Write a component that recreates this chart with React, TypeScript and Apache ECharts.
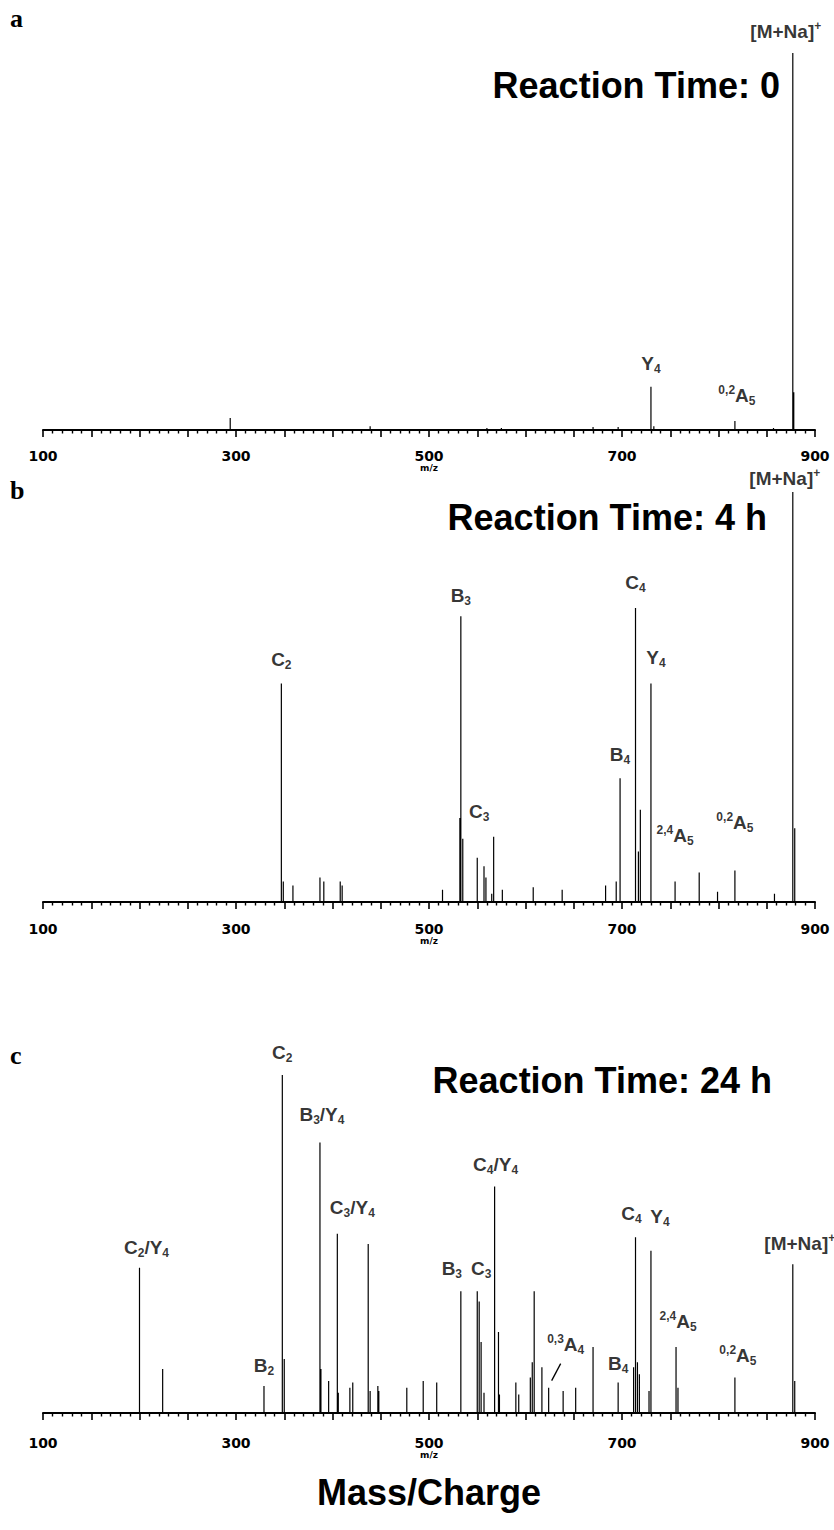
import React, { useEffect, useRef } from "react";
import * as echarts from "echarts";

const MZ_MIN = 100;
const MZ_MAX = 900;
const TICK_LABEL_VALUES = [100, 300, 500, 700, 900];

// ---- Panel a: Reaction time 0 ----
const A_MZ = [294, 439, 560, 575, 670, 696, 730, 733, 817, 857, 877, 878];
const A_INT = [3.2, 1, 0.5, 0.5, 0.8, 0.8, 11.5, 1, 2.4, 0.5, 100, 10];
const A_LABEL_MZ = [877, 730, 817];
const A_LABEL_TEXT = ["{m|[M+Na]}{sup|+}", "{m|Y}{sub|4}", "{sup|0,2}{m|A}{sub|5}"];

// ---- Panel b: Reaction time 4 h ----
const B_MZ = [347, 349, 359, 387, 391, 408, 410, 514, 532, 533, 535, 550, 557, 559, 565, 567, 576, 608, 638, 683, 694, 698, 714, 717, 719, 730, 755, 780, 799, 817, 858, 877, 879];
const B_INT = [53.3, 5, 4, 6, 5, 5, 4, 3, 20.5, 69.7, 15.4, 10.8, 8.7, 6, 2, 15.9, 3, 3.6, 3, 4, 5, 30.2, 71.7, 12.3, 22.5, 53.3, 5, 7.2, 2.5, 7.7, 2, 100, 18];
const B_LABEL_MZ = [877, 347, 533, 550, 698, 714, 730, 755, 817];
const B_LABEL_TEXT = [
  "{m|[M+Na]}{sup|+}", "{m|C}{sub|2}", "{m|B}{sub|3}", "{m|C}{sub|3}", "{m|B}{sub|4}",
  "{m|C}{sub|4}", "{m|Y}{sub|4}", "{sup|2,4}{m|A}{sub|5}", "{sup|0,2}{m|A}{sub|5}",
];

// ---- Panel c: Reaction time 24 h ----
const C_MZ = [200, 224, 329, 348, 350, 387, 388, 396, 405, 406, 418, 421, 437, 439, 447, 448, 477, 494, 508, 533, 550, 552, 554, 557, 568, 572, 573, 590, 593, 605, 607, 609, 617, 624, 639, 652, 670, 696, 712, 714, 716, 718, 728, 730, 756, 758, 817, 877, 879];
const C_INT = [43, 13, 8, 100, 16, 80, 13, 9.5, 53, 6, 7.5, 9, 50, 6.5, 8, 6.5, 7.5, 9.5, 9, 36, 36, 33, 21, 6, 67, 24, 5.5, 9, 5.5, 10.5, 15, 36, 13.5, 7.5, 6.5, 7.5, 19.5, 9, 13.5, 52, 15, 11.5, 6.5, 48, 19.5, 7.5, 10.5, 44, 9.5];
const C_LABEL_MZ = [200, 329, 348, 387, 405, 533, 550, 568, 624, 696, 714, 730, 756, 817, 877];
const C_LABEL_TEXT = [
  "{m|C}{sub|2}{m|/Y}{sub|4}", "{m|B}{sub|2}", "{m|C}{sub|2}", "{m|B}{sub|3}{m|/Y}{sub|4}",
  "{m|C}{sub|3}{m|/Y}{sub|4}", "{m|B}{sub|3}", "{m|C}{sub|3}", "{m|C}{sub|4}{m|/Y}{sub|4}",
  "{sup|0,3}{m|A}{sub|4}", "{m|B}{sub|4}", "{m|C}{sub|4}", "{m|Y}{sub|4}",
  "{sup|2,4}{m|A}{sub|5}", "{sup|0,2}{m|A}{sub|5}", "{m|[M+Na]}{sup|+}",
];

const TITLES = ["Reaction Time: 0", "Reaction Time: 4 h", "Reaction Time: 24 h"];
const PANEL_LETTERS = ["a", "b", "c"];
const X_NAME = "m/z";
const BOTTOM_TITLE = "Mass/Charge";

// ---- layout (pixels) ----
const LAYOUT = [
  {
    top: 53, base: 430, rulerGap: 4, titleX: 780, titleY: 85, letterY: 18,
    labelOffsets: [[-7, -8], [0, -10], [2, -12]],
  },
  {
    top: 492, base: 902, rulerGap: 5, titleX: 767, titleY: 517, letterY: 490,
    labelOffsets: [[-8, 0], [0, -10], [0, -7], [2, -33], [0, -10], [0, -12], [5, -12], [0, -33], [0, -34]],
  },
  {
    top: 1075, base: 1413, rulerGap: 8, titleX: 772, titleY: 1080, letterY: 1055,
    labelOffsets: [[7, -7], [0, -7], [0, -9], [2, -15], [15, -13], [-9, -9], [4, -9], [1, -9], [17, -30], [0, -6], [-4, -10], [9, -21], [2, -12], [3, -9], [7, -7]],
  },
];
const GRID_LEFT = 43;
const GRID_RIGHT = 19;
const FONT = "'Liberation Sans', Arial, sans-serif";
const AXIS_FONT = "'DejaVu Sans', sans-serif";
const RICH = {
  m: { fontSize: 19, fontFamily: FONT, fontWeight: "bold", color: "#000" },
  sub: { fontSize: 12, fontFamily: FONT, fontWeight: "bold", color: "#000", padding: [11, 0, 0, 0] },
  sup: { fontSize: 12, fontFamily: FONT, fontWeight: "bold", color: "#000", padding: [0, 0, 11, 0] },
};

function sticks(mz: number[], inten: number[]) {
  const d: number[][] = [];
  mz.forEach((m, i) => {
    d.push([m, 0], [m, inten[i]], [m, 0]);
  });
  return d;
}

function intensityAt(mz: number[], inten: number[], m: number) {
  const i = mz.indexOf(m);
  return i >= 0 ? inten[i] : 0;
}

export default function App() {
  const ref = useRef<HTMLDivElement>(null);
  useEffect(() => {
    if (!ref.current) return;
    const chart = echarts.init(ref.current, undefined, { renderer: "svg" });
    const panels = [
      { mz: A_MZ, inten: A_INT, lmz: A_LABEL_MZ, ltext: A_LABEL_TEXT },
      { mz: B_MZ, inten: B_INT, lmz: B_LABEL_MZ, ltext: B_LABEL_TEXT },
      { mz: C_MZ, inten: C_INT, lmz: C_LABEL_MZ, ltext: C_LABEL_TEXT },
    ];
    const grid: any[] = [];
    const xAxis: any[] = [];
    const yAxis: any[] = [];
    const series: any[] = [];
    panels.forEach((p, i) => {
      const L = LAYOUT[i];
      grid.push({ left: GRID_LEFT, right: GRID_RIGHT, top: L.top, height: L.base - L.top });
      xAxis.push({
        type: "value", gridIndex: i, min: MZ_MIN, max: MZ_MAX, interval: 50, position: "bottom", offset: L.rulerGap,
        axisLine: { show: true, lineStyle: { color: "#000", width: 2 } },
        axisTick: { show: true, inside: false, length: 7, lineStyle: { color: "#000", width: 1.6 } },
        minorTick: { show: true, splitNumber: 5, length: 3.5, lineStyle: { color: "#000", width: 1.4 } },
        splitLine: { show: false }, minorSplitLine: { show: false },
        axisLabel: {
          margin: 15, color: "#000", fontFamily: AXIS_FONT, fontWeight: "bold", fontSize: 14,
          formatter: (v: number) => (TICK_LABEL_VALUES.indexOf(v) >= 0 ? String(v) : ""),
          showMinLabel: true, showMaxLabel: true,
        },
        name: X_NAME, nameLocation: "middle", nameGap: 28,
        nameTextStyle: { color: "#000", fontFamily: AXIS_FONT, fontWeight: "bold", fontSize: 9 },
      });
      xAxis.push({
        type: "value", gridIndex: i, min: MZ_MIN, max: MZ_MAX, position: "bottom", offset: 0,
        axisLine: { show: true, lineStyle: { color: "#000", width: 1.2 } },
        axisTick: { show: false }, axisLabel: { show: false }, splitLine: { show: false },
      });
      yAxis.push({ type: "value", gridIndex: i, min: 0, max: 100, show: false });
      series.push({
        type: "line", xAxisIndex: 2 * i, yAxisIndex: i, data: sticks(p.mz, p.inten), symbol: "none",
        lineStyle: { color: "#000", width: 1.2 }, silent: true,
      });
      series.push({
        type: "scatter", xAxisIndex: 2 * i, yAxisIndex: i, symbolSize: 0, silent: true,
        data: p.lmz.map((m, k) => ({
          value: [m, intensityAt(p.mz, p.inten, m)],
          label: { offset: L.labelOffsets[k] },
        })),
        label: {
          show: true, position: "top", distance: 2, color: "#000",
          formatter: (q: any) => p.ltext[q.dataIndex], rich: RICH,
        },
      });
    });

    const staticGraphics: any[] = [];
    LAYOUT.forEach((L, i) => {
      staticGraphics.push({
        type: "text", x: L.titleX, y: L.titleY,
        style: { text: TITLES[i], fill: "#000", font: `bold 36px ${FONT}`, textAlign: "right", textVerticalAlign: "middle" },
      });
      staticGraphics.push({
        type: "text", x: 10, y: L.letterY,
        style: { text: PANEL_LETTERS[i], fill: "#000", font: "bold 26px 'Liberation Serif', serif", textAlign: "left", textVerticalAlign: "middle" },
      });
    });
    staticGraphics.push({
      type: "text", x: 429, y: 1492,
      style: { text: BOTTOM_TITLE, fill: "#000", font: `bold 36px ${FONT}`, textAlign: "center", textVerticalAlign: "middle" },
    });

    chart.setOption({ animation: false, grid, xAxis, yAxis, series, graphic: staticGraphics });

    const leaderMz = 624;
    const pt = chart.convertToPixel({ xAxisIndex: 4, yAxisIndex: 2 }, [leaderMz, intensityAt(C_MZ, C_INT, leaderMz)]) as number[];
    chart.setOption({
      graphic: [
        ...staticGraphics,
        { type: "line", shape: { x1: pt[0] + 3, y1: pt[1] - 7, x2: pt[0] + 12, y2: pt[1] - 24 }, style: { stroke: "#000", lineWidth: 1.3 } },
      ],
    });
    return () => chart.dispose();
  }, []);
  return <div ref={ref} style={{ position: "absolute", left: 0, top: 0, width: 834, height: 1530, background: "#fff" }} />;
}
